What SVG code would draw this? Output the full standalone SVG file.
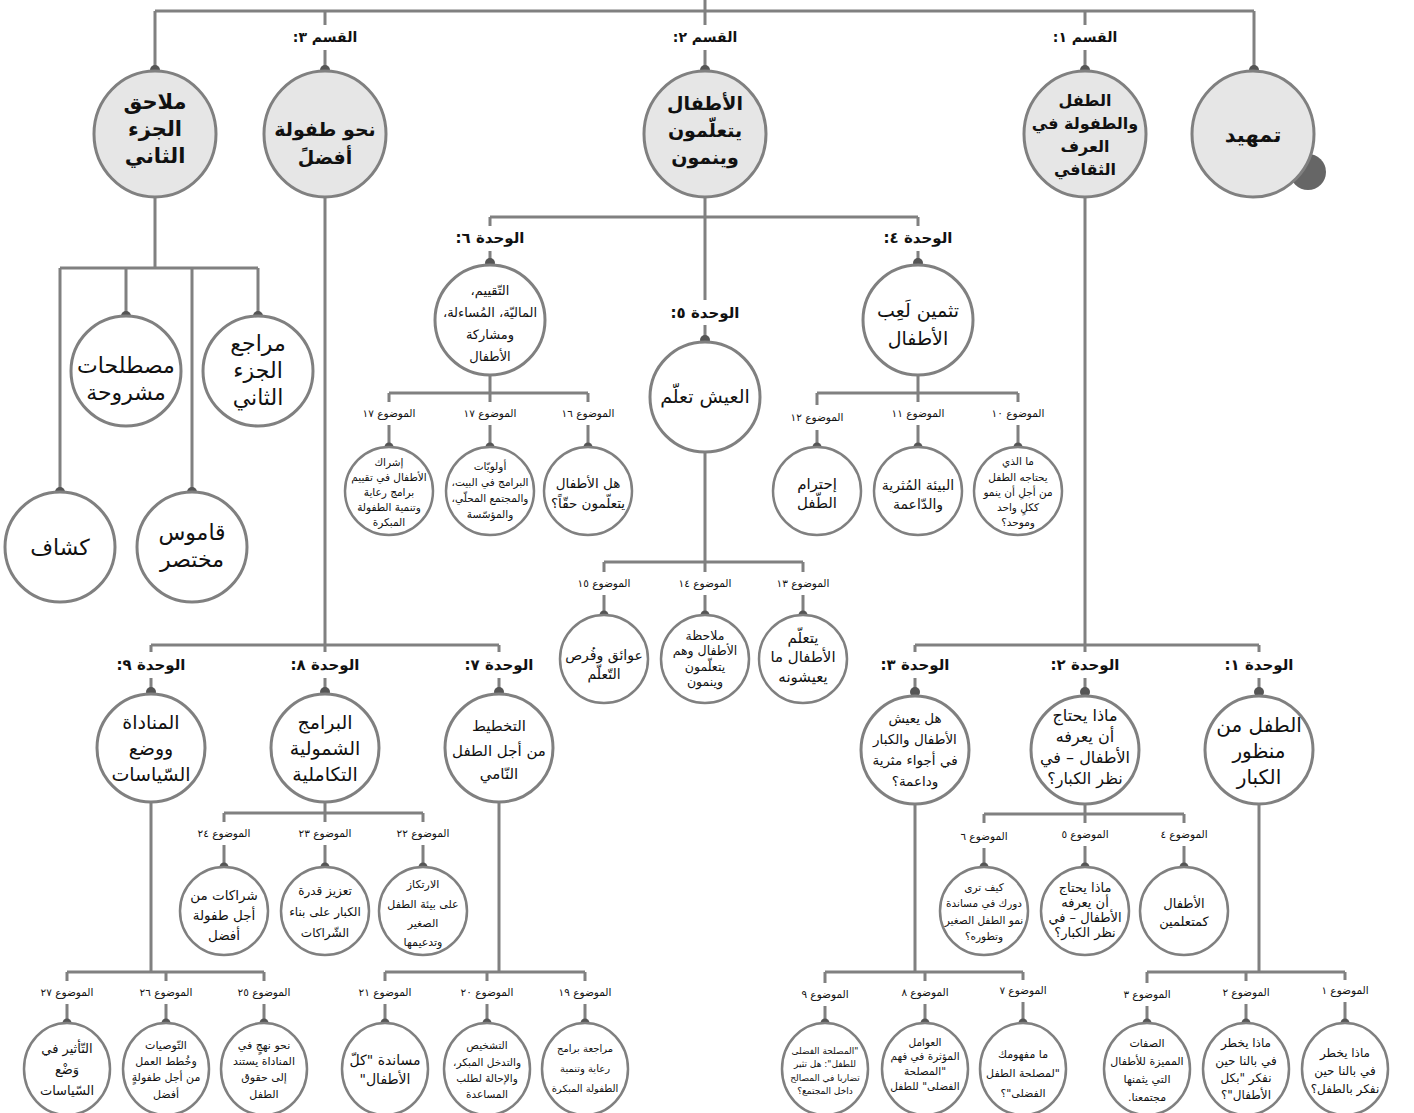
<svg xmlns="http://www.w3.org/2000/svg" width="1414" height="1113" viewBox="0 0 1414 1113">
<style>
.ln{stroke:#808080;stroke-width:3;fill:none}
.dot{fill:#555}
.sec{fill:#e6e6e6;stroke:#808080;stroke-width:3}
.nd{fill:#fff;stroke:#808080;stroke-width:3}
.tp{fill:#fff;stroke:#808080;stroke-width:2.5}
text{font-family:"DejaVu Sans",sans-serif;fill:#111;text-anchor:middle;direction:rtl}
.b{font-weight:bold}
.lq{font-size:14px;font-weight:bold}
.lu{font-size:15px;font-weight:bold}
.lt{font-size:10.5px}
</style>
<rect width="1414" height="1113" fill="#fff"/>
<g id="connectors">
<path class="ln" d="M705 0V11M155 11H1254M155 11V70M325 11V25M325 50V70M705 11V25M705 50V70M1085 11V25M1085 50V70M1254 11V70"/>
<path class="ln" d="M155 197V268M60 268H258M60 268V492M126 268V316M192 268V492M258 268V316"/>
<path class="ln" d="M705 197V300M705 325V340M490 217H918M490 217V226M490 251V263M918 217V226M918 251V263"/>
<path class="ln" d="M490 375V393M389 393H588M389 393V402M389 425V447M490 393V402M490 425V447M588 393V402M588 425V447"/>
<path class="ln" d="M918 375V393M817 393H1018M817 393V405M817 430V447M918 393V402M918 425V447M1018 393V402M1018 425V447"/>
<path class="ln" d="M705 452V562M604 562H803M604 562V572M604 595V615M705 562V572M705 595V615M803 562V572M803 595V615"/>
<path class="ln" d="M325 197V645M151 645H499M151 645V652M151 678V692M325 645V652M325 678V692M499 645V652M499 678V692"/>
<path class="ln" d="M325 802V813M224 813H423M224 813V822M224 845V867M325 813V822M325 845V867M423 813V822M423 845V867"/>
<path class="ln" d="M151 802V972M67 972H264M67 972V981M67 1004V1023M166 972V981M166 1004V1023M264 972V981M264 1004V1023"/>
<path class="ln" d="M499 802V972M385 972H585M385 972V981M385 1004V1023M487 972V981M487 1004V1023M585 972V981M585 1004V1023"/>
<path class="ln" d="M1085 197V645M915 645H1259M915 645V652M915 678V692M1085 645V652M1085 678V692M1259 645V652M1259 678V692"/>
<path class="ln" d="M1085 804V814M984 814H1184M984 814V823M984 848V867M1085 814V823M1085 846V867M1184 814V823M1184 846V867"/>
<path class="ln" d="M915 804V972M825 972H1023M825 972V983M825 1006V1023M925 972V981M925 1004V1023M1023 972V980M1023 1002V1023"/>
<path class="ln" d="M1259 804V972M1147 972H1345M1147 972V983M1147 1006V1023M1246 972V981M1246 1004V1023M1345 972V980M1345 1002V1023"/>
<g class="dot">
<circle cx="155" cy="70" r="5"/><circle cx="325" cy="70" r="5"/><circle cx="705" cy="70" r="5"/><circle cx="1085" cy="70" r="5"/><circle cx="1254" cy="70" r="5"/>
<circle cx="60" cy="492" r="5"/><circle cx="126" cy="316" r="5"/><circle cx="192" cy="492" r="5"/><circle cx="258" cy="316" r="5"/>
<circle cx="490" cy="263" r="5"/><circle cx="918" cy="263" r="5"/><circle cx="705" cy="340" r="5"/>
<circle cx="389" cy="447" r="4.5"/><circle cx="490" cy="447" r="4.5"/><circle cx="588" cy="447" r="4.5"/>
<circle cx="817" cy="447" r="4.5"/><circle cx="918" cy="447" r="4.5"/><circle cx="1018" cy="447" r="4.5"/>
<circle cx="604" cy="615" r="4.5"/><circle cx="705" cy="615" r="4.5"/><circle cx="803" cy="615" r="4.5"/>
<circle cx="151" cy="692" r="5"/><circle cx="325" cy="692" r="5"/><circle cx="499" cy="692" r="5"/>
<circle cx="224" cy="867" r="4.5"/><circle cx="325" cy="867" r="4.5"/><circle cx="423" cy="867" r="4.5"/>
<circle cx="67" cy="1023" r="4.5"/><circle cx="166" cy="1023" r="4.5"/><circle cx="264" cy="1023" r="4.5"/>
<circle cx="385" cy="1023" r="4.5"/><circle cx="487" cy="1023" r="4.5"/><circle cx="585" cy="1023" r="4.5"/>
<circle cx="915" cy="692" r="5"/><circle cx="1085" cy="692" r="5"/><circle cx="1259" cy="692" r="5"/>
<circle cx="984" cy="867" r="4.5"/><circle cx="1085" cy="867" r="4.5"/><circle cx="1184" cy="867" r="4.5"/>
<circle cx="825" cy="1023" r="4.5"/><circle cx="925" cy="1023" r="4.5"/><circle cx="1023" cy="1023" r="4.5"/>
<circle cx="1147" cy="1023" r="4.5"/><circle cx="1246" cy="1023" r="4.5"/><circle cx="1345" cy="1023" r="4.5"/>
</g>
<g id="labels">
<text class="lq" x="325" y="42">القسم ٣:</text>
<text class="lq" x="705" y="42">القسم ٢:</text>
<text class="lq" x="1085" y="42">القسم ١:</text>
<text class="lu" x="490" y="243">الوحدة ٦:</text>
<text class="lu" x="918" y="243">الوحدة ٤:</text>
<text class="lu" x="705" y="318">الوحدة ٥:</text>
<text class="lu" x="151" y="670">الوحدة ٩:</text>
<text class="lu" x="325" y="670">الوحدة ٨:</text>
<text class="lu" x="499" y="670">الوحدة ٧:</text>
<text class="lu" x="915" y="670">الوحدة ٣:</text>
<text class="lu" x="1085" y="670">الوحدة ٢:</text>
<text class="lu" x="1259" y="670">الوحدة ١:</text>
<text class="lt" x="389" y="417">الموضوع ١٧</text>
<text class="lt" x="490" y="417">الموضوع ١٧</text>
<text class="lt" x="588" y="417">الموضوع ١٦</text>
<text class="lt" x="817" y="421">الموضوع ١٢</text>
<text class="lt" x="918" y="417">الموضوع ١١</text>
<text class="lt" x="1018" y="417">الموضوع ١٠</text>
<text class="lt" x="604" y="587">الموضوع ١٥</text>
<text class="lt" x="705" y="587">الموضوع ١٤</text>
<text class="lt" x="803" y="587">الموضوع ١٣</text>
<text class="lt" x="224" y="837">الموضوع ٢٤</text>
<text class="lt" x="325" y="837">الموضوع ٢٣</text>
<text class="lt" x="423" y="837">الموضوع ٢٢</text>
<text class="lt" x="67" y="996">الموضوع ٢٧</text>
<text class="lt" x="166" y="996">الموضوع ٢٦</text>
<text class="lt" x="264" y="996">الموضوع ٢٥</text>
<text class="lt" x="385" y="996">الموضوع ٢١</text>
<text class="lt" x="487" y="996">الموضوع ٢٠</text>
<text class="lt" x="585" y="996">الموضوع ١٩</text>
<text class="lt" x="984" y="840">الموضوع ٦</text>
<text class="lt" x="1085" y="838">الموضوع ٥</text>
<text class="lt" x="1184" y="838">الموضوع ٤</text>
<text class="lt" x="825" y="998">الموضوع ٩</text>
<text class="lt" x="925" y="996">الموضوع ٨</text>
<text class="lt" x="1023" y="994">الموضوع ٧</text>
<text class="lt" x="1147" y="998">الموضوع ٣</text>
<text class="lt" x="1246" y="996">الموضوع ٢</text>
<text class="lt" x="1345" y="994">الموضوع ١</text>
</g>
</g>

<g id="sec-appendix">
<ellipse class="sec" cx="155" cy="134" rx="61" ry="63"/>
<text class="b" font-size="21"><tspan x="155" y="109">ملاحق</tspan><tspan x="155" y="136">الجزء</tspan><tspan x="155" y="163">الثاني</tspan></text>
</g>
<g id="sec-3">
<ellipse class="sec" cx="325" cy="134" rx="61" ry="63"/>
<text class="b" font-size="19"><tspan x="325" y="136">نحو طفولة</tspan><tspan x="325" y="164">أفضلً</tspan></text>
</g>
<g id="sec-2">
<ellipse class="sec" cx="705" cy="134" rx="61" ry="63"/>
<text class="b" font-size="19"><tspan x="705" y="110">الأطفال</tspan><tspan x="705" y="137">يتعلّمون</tspan><tspan x="705" y="164">وينمون</tspan></text>
</g>
<g id="sec-1">
<ellipse class="sec" cx="1085" cy="134" rx="61" ry="63"/>
<text class="b" font-size="16"><tspan x="1085" y="106">الطفل</tspan><tspan x="1085" y="129">والطفولة في</tspan><tspan x="1085" y="152">العرف</tspan><tspan x="1085" y="175">الثقافي</tspan></text>
</g>
<g id="sec-intro">
<circle cx="1308" cy="172" r="18" fill="#666"/>
<ellipse class="sec" cx="1253" cy="134" rx="61" ry="63"/>
<text class="b" font-size="21" x="1253" y="142">تمهيد</text>
</g>

<g id="app-glossary">
<circle class="nd" cx="126" cy="371" r="55"/>
<text font-size="22"><tspan x="126" y="373">مصطلحات</tspan><tspan x="126" y="400">مشروحة</tspan></text>
</g>
<g id="app-refs">
<circle class="nd" cx="258" cy="371" r="55"/>
<text font-size="22"><tspan x="258" y="351">مراجع</tspan><tspan x="258" y="378">الجزء</tspan><tspan x="258" y="405">الثاني</tspan></text>
</g>
<g id="app-index">
<circle class="nd" cx="60" cy="547" r="55"/>
<text font-size="22" x="60" y="555">كشاف</text>
</g>
<g id="app-dict">
<circle class="nd" cx="192" cy="547" r="55"/>
<text font-size="22"><tspan x="192" y="540">قاموس</tspan><tspan x="192" y="567">مختصر</tspan></text>
</g>

<g id="unit-6">
<circle class="nd" cx="490" cy="320" r="55"/>
<text font-size="13"><tspan x="490" y="295">التّقييم،</tspan><tspan x="490" y="317">الماليّة، المُساءلة،</tspan><tspan x="490" y="339">ومشاركة</tspan><tspan x="490" y="361">الأطفال</tspan></text>
</g>
<g id="unit-5">
<circle class="nd" cx="705" cy="397" r="55"/>
<text font-size="19" x="705" y="403">العيش تعلّم</text>
</g>
<g id="unit-4">
<circle class="nd" cx="918" cy="320" r="55"/>
<text font-size="19"><tspan x="918" y="317">تثمين لَعِب</tspan><tspan x="918" y="345">الأطفال</tspan></text>
</g>

<g id="topic-17b">
<circle class="tp" cx="389" cy="491" r="44"/>
<text font-size="10.5"><tspan x="389" y="466">إشراك</tspan><tspan x="389" y="481">الأطفال في تقييم</tspan><tspan x="389" y="496">برامج رعاية</tspan><tspan x="389" y="511">وتنمية الطفولة</tspan><tspan x="389" y="526">المبكرة</tspan></text>
</g>
<g id="topic-17a">
<circle class="tp" cx="490" cy="491" r="44"/>
<text font-size="10.5"><tspan x="490" y="470">أولويّات</tspan><tspan x="490" y="486">البرامج في البيت،</tspan><tspan x="490" y="502">والمجتمع المحلّي،</tspan><tspan x="490" y="518">والمؤسّسة</tspan></text>
</g>
<g id="topic-16">
<circle class="tp" cx="588" cy="491" r="44"/>
<text font-size="13.5"><tspan x="588" y="488">هل الأطفال</tspan><tspan x="588" y="508">يتعلّمون حقّاً؟</tspan></text>
</g>
<g id="topic-12">
<circle class="tp" cx="817" cy="491" r="44"/>
<text font-size="15"><tspan x="817" y="489">إحترام</tspan><tspan x="817" y="508">الطّفل</tspan></text>
</g>
<g id="topic-11">
<circle class="tp" cx="918" cy="491" r="44"/>
<text font-size="14"><tspan x="918" y="490">البيئة المُثرية</tspan><tspan x="918" y="509">والدّاعمة</tspan></text>
</g>
<g id="topic-10">
<circle class="tp" cx="1018" cy="491" r="44"/>
<text font-size="10.5"><tspan x="1018" y="465">ما الذي</tspan><tspan x="1018" y="481">يحتاجه الطفل</tspan><tspan x="1018" y="496">من أجلِ أن ينمو</tspan><tspan x="1018" y="511">ككلٍ واحد</tspan><tspan x="1018" y="526">وموحد؟</tspan></text>
</g>

<g id="topic-15">
<circle class="tp" cx="604" cy="659" r="44"/>
<text font-size="14"><tspan x="604" y="660">عوائق وفُرص</tspan><tspan x="604" y="679">التّعلّم</tspan></text>
</g>
<g id="topic-14">
<circle class="tp" cx="705" cy="659" r="44"/>
<text font-size="12.5"><tspan x="705" y="640">ملاحظة</tspan><tspan x="705" y="655">الأطفال وهم</tspan><tspan x="705" y="671">يتعلّمون</tspan><tspan x="705" y="686">وينمون</tspan></text>
</g>
<g id="topic-13">
<circle class="tp" cx="803" cy="659" r="44"/>
<text font-size="15"><tspan x="803" y="643">يتعلّم</tspan><tspan x="803" y="662">الأطفال ما</tspan><tspan x="803" y="682">يعيشونه</tspan></text>
</g>

<g id="unit-9">
<circle class="nd" cx="151" cy="748" r="54"/>
<text font-size="19"><tspan x="151" y="729">المناداة</tspan><tspan x="151" y="755">ووضع</tspan><tspan x="151" y="781">السّياسات</tspan></text>
</g>
<g id="unit-8">
<circle class="nd" cx="325" cy="748" r="54"/>
<text font-size="19"><tspan x="325" y="729">البرامج</tspan><tspan x="325" y="755">الشمولية</tspan><tspan x="325" y="781">التكاملية</tspan></text>
</g>
<g id="unit-7">
<circle class="nd" cx="499" cy="748" r="54"/>
<text font-size="15"><tspan x="499" y="731">التخطيط</tspan><tspan x="499" y="756">من أجل الطفل</tspan><tspan x="499" y="779">النّامي</tspan></text>
</g>

<g id="topic-24">
<circle class="tp" cx="224" cy="911" r="44"/>
<text font-size="13.5"><tspan x="224" y="900">شراكات من</tspan><tspan x="224" y="920">أجل طفولة</tspan><tspan x="224" y="940">أفضل</tspan></text>
</g>
<g id="topic-23">
<circle class="tp" cx="325" cy="911" r="44"/>
<text font-size="12"><tspan x="325" y="895">تعزيز قدرة</tspan><tspan x="325" y="916">الكبار على بناء</tspan><tspan x="325" y="937">الشّراكات</tspan></text>
</g>
<g id="topic-22">
<circle class="tp" cx="423" cy="911" r="44"/>
<text font-size="11"><tspan x="423" y="888">الارتكاز</tspan><tspan x="423" y="908">على بيئة الطفل</tspan><tspan x="423" y="927">الصغير</tspan><tspan x="423" y="946">وتدعيمها</tspan></text>
</g>

<g id="topic-27">
<ellipse class="tp" cx="67" cy="1069" rx="43" ry="46"/>
<text font-size="13"><tspan x="67" y="1053">التّأثير في</tspan><tspan x="67" y="1074">وَضْع</tspan><tspan x="67" y="1095">السّياسات</tspan></text>
</g>
<g id="topic-26">
<ellipse class="tp" cx="166" cy="1069" rx="43" ry="46"/>
<text font-size="11"><tspan x="166" y="1049">التّوصيات</tspan><tspan x="166" y="1065">وخُطط العمل</tspan><tspan x="166" y="1081">من أجل طفولةٍ</tspan><tspan x="166" y="1098">أفضل</tspan></text>
</g>
<g id="topic-25">
<ellipse class="tp" cx="264" cy="1069" rx="43" ry="46"/>
<text font-size="11"><tspan x="264" y="1049">نحو نهجٍ في</tspan><tspan x="264" y="1065">المناداة يستند</tspan><tspan x="264" y="1081">إلى حقوق</tspan><tspan x="264" y="1098">الطفل</tspan></text>
</g>
<g id="topic-21">
<ellipse class="tp" cx="385" cy="1069" rx="43" ry="46"/>
<text font-size="14"><tspan x="385" y="1065">مساندة "كلّ</tspan><tspan x="385" y="1084">الأطفال"</tspan></text>
</g>
<g id="topic-20">
<ellipse class="tp" cx="487" cy="1069" rx="43" ry="46"/>
<text font-size="10.5"><tspan x="487" y="1049">التشخيص</tspan><tspan x="487" y="1066">والتدخل المبكر،</tspan><tspan x="487" y="1082">والإحالة لطلب</tspan><tspan x="487" y="1098">المساعدة</tspan></text>
</g>
<g id="topic-19">
<ellipse class="tp" cx="585" cy="1069" rx="43" ry="46"/>
<text font-size="10"><tspan x="585" y="1052">مراجعة برامج</tspan><tspan x="585" y="1072">رعاية وتنمية</tspan><tspan x="585" y="1092">الطفولة المبكرة</tspan></text>
</g>

<g id="unit-3">
<circle class="nd" cx="915" cy="750" r="54"/>
<text font-size="13.5"><tspan x="915" y="723">هل يعيش</tspan><tspan x="915" y="744">الأطفال والكبار</tspan><tspan x="915" y="765">في أجواء مثرية</tspan><tspan x="915" y="786">وداعمة؟</tspan></text>
</g>
<g id="unit-2">
<circle class="nd" cx="1085" cy="750" r="54"/>
<text font-size="16"><tspan x="1085" y="721">ماذا يحتاج</tspan><tspan x="1085" y="742">أن يعرفه</tspan><tspan x="1085" y="763">الأطفال – في</tspan><tspan x="1085" y="784">نظر الكبار؟</tspan></text>
</g>
<g id="unit-1">
<circle class="nd" cx="1259" cy="750" r="54"/>
<text font-size="20"><tspan x="1259" y="732">الطفل من</tspan><tspan x="1259" y="758">منظور</tspan><tspan x="1259" y="784">الكبار</tspan></text>
</g>

<g id="topic-6">
<circle class="tp" cx="984" cy="911" r="44"/>
<text font-size="10.5"><tspan x="984" y="891">كيف ترى</tspan><tspan x="984" y="907">دورك في مساندة</tspan><tspan x="984" y="924">نمو الطفل الصغير</tspan><tspan x="984" y="940">وتطوره؟</tspan></text>
</g>
<g id="topic-5">
<circle class="tp" cx="1085" cy="911" r="44"/>
<text font-size="13"><tspan x="1085" y="892">ماذا يحتاج</tspan><tspan x="1085" y="907">أن يعرفه</tspan><tspan x="1085" y="922">الأطفال – في</tspan><tspan x="1085" y="937">نظر الكبار؟</tspan></text>
</g>
<g id="topic-4">
<circle class="tp" cx="1184" cy="911" r="44"/>
<text font-size="13"><tspan x="1184" y="908">الأطفال</tspan><tspan x="1184" y="926">كمتعلمين</tspan></text>
</g>

<g id="topic-9">
<ellipse class="tp" cx="825" cy="1069" rx="43" ry="46"/>
<text font-size="9"><tspan x="825" y="1054">"المصلحة الفضلى</tspan><tspan x="825" y="1067">للطفل": هل تثير</tspan><tspan x="825" y="1081">تضاربا في المصالح</tspan><tspan x="825" y="1094">داخل المجتمع؟</tspan></text>
</g>
<g id="topic-8">
<ellipse class="tp" cx="925" cy="1069" rx="43" ry="46"/>
<text font-size="10.5"><tspan x="925" y="1046">العوامل</tspan><tspan x="925" y="1060">المؤثرة في فهم</tspan><tspan x="925" y="1075">"المصلحة</tspan><tspan x="925" y="1090">الفضلى" للطفل</tspan></text>
</g>
<g id="topic-7">
<ellipse class="tp" cx="1023" cy="1069" rx="43" ry="46"/>
<text font-size="11"><tspan x="1023" y="1058">ما مفهومك</tspan><tspan x="1023" y="1077">"لمصلحة الطفل</tspan><tspan x="1023" y="1097">الفضلى"؟</tspan></text>
</g>
<g id="topic-3">
<ellipse class="tp" cx="1147" cy="1069" rx="43" ry="46"/>
<text font-size="11"><tspan x="1147" y="1047">الصفات</tspan><tspan x="1147" y="1065">المميزة للأطفال</tspan><tspan x="1147" y="1083">التي يثمنها</tspan><tspan x="1147" y="1101">مجتمعنا.</tspan></text>
</g>
<g id="topic-2">
<ellipse class="tp" cx="1246" cy="1069" rx="43" ry="46"/>
<text font-size="12"><tspan x="1246" y="1047">ماذا يخطر</tspan><tspan x="1246" y="1065">في بالنا حين</tspan><tspan x="1246" y="1082">نفكر "بكل</tspan><tspan x="1246" y="1099">الأطفال"؟</tspan></text>
</g>
<g id="topic-1">
<ellipse class="tp" cx="1345" cy="1069" rx="43" ry="46"/>
<text font-size="12"><tspan x="1345" y="1057">ماذا يخطر</tspan><tspan x="1345" y="1075">في بالنا حين</tspan><tspan x="1345" y="1093">نفكر بالطفل؟</tspan></text>
</g>
</svg>
